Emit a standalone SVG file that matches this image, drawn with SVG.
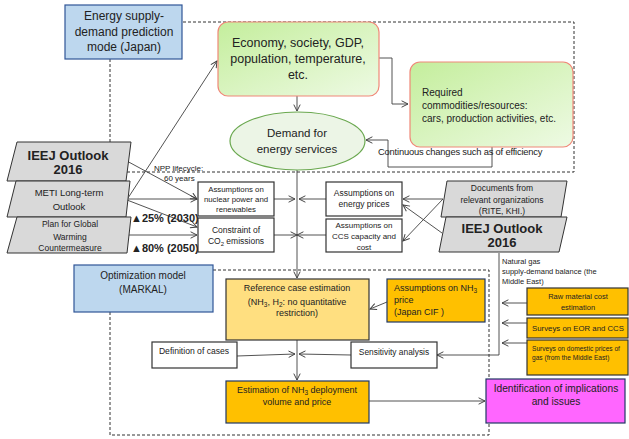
<svg xmlns="http://www.w3.org/2000/svg" width="629" height="439" viewBox="0 0 629 439">
<style>
text{font-family:"Liberation Sans",Arial,sans-serif;fill:#222}
.c{text-anchor:middle}
.b{font-weight:bold}
.dash{fill:none;stroke:#333;stroke-width:1;stroke-dasharray:3,2}
.ln{fill:none;stroke:#404040;stroke-width:0.9;marker-end:url(#ah)}
.blue{fill:#bdd7ee;stroke:#2f5597;stroke-width:1.2}
.grn{fill:url(#gg);stroke:#f08878;stroke-width:1.2}
.par{fill:#d9d9d9;stroke:#333;stroke-width:1}
.wht{fill:#fff;stroke:#333;stroke-width:1.2}
.org{fill:#ffc000;stroke:#203864;stroke-width:1.2}
.org2{fill:#ffc000;stroke:#333;stroke-width:1.2}
</style>
<defs>
<linearGradient id="gg" x1="0" y1="0" x2="1" y2="1">
<stop offset="0" stop-color="#c4ee9c"/>
<stop offset="1" stop-color="#eefae4"/>
</linearGradient>
<marker id="ah" viewBox="0 0 10 10" refX="9" refY="5" markerWidth="8" markerHeight="8" markerUnits="userSpaceOnUse" orient="auto">
<path d="M1,1 L9,5 L1,9" fill="none" stroke="#404040" stroke-width="1.2"/>
</marker>
</defs>
<rect width="629" height="439" fill="#fff"/>
<g id="frames">
<path class="dash" d="M183,22 H574 V172 H126"/>
<path class="dash" d="M110,59 V143"/>
<path class="dash" d="M213,270 H489 V435 H110 V312"/>
</g>
<g id="connectors">
<path class="ln" d="M128,198 L217,61"/>
<path class="ln" d="M379,58 H392 V104 H408"/>
<path class="ln" d="M297,96 V111"/>
<path class="ln" d="M492,147 V167 H388 V140 H366"/>
<path class="ln" d="M125,160 L197,199"/>
<path class="ln" d="M127,199 H197"/>
<path class="ln" d="M127,200 L197,227"/>
<path class="ln" d="M128,235 H197"/>
<path class="ln" d="M297,170 V278"/>
<path class="ln" d="M274,199 H295"/>
<path class="ln" d="M326,199 H299"/>
<path class="ln" d="M274,235 H297"/>
<path class="ln" d="M326,235 H297"/>
<path class="ln" d="M443,199 H403"/>
<path class="ln" d="M443,199 L403,241"/>
<path class="ln" d="M442,233 L403,205"/>
<path class="ln" d="M499,253 V355 H437"/>
<path class="ln" d="M527,303 H502"/>
<path class="ln" d="M527,323 H502"/>
<path class="ln" d="M527,343 H502"/>
<path class="ln" d="M387,302 L370,309"/>
<path class="ln" d="M237,356 L295,354"/>
<path class="ln" d="M351,355 L299,354"/>
<path class="ln" d="M297,340 V380"/>
<path class="ln" d="M369,401 H485"/>
</g>
<g id="n-energy-model">
<rect class="blue" x="65" y="5" width="117" height="54"/>
<text class="c" x="124" y="20" font-size="12">Energy supply-</text>
<text class="c" x="124" y="36" font-size="12">demand prediction</text>
<text class="c" x="124" y="51" font-size="12">mode (Japan)</text>
</g>
<g id="n-economy">
<rect class="grn" x="218" y="22" width="161" height="74" rx="10"/>
<text class="c" x="298" y="47" font-size="12.5">Economy, society, GDP,</text>
<text class="c" x="298" y="63" font-size="12.5">population, temperature,</text>
<text class="c" x="298" y="79" font-size="12.5">etc.</text>
</g>
<g id="n-required">
<rect class="grn" x="410" y="62" width="163" height="85" rx="10"/>
<text x="422" y="95.5" font-size="10">Required</text>
<text x="422" y="108.5" font-size="10">commodities/resources:</text>
<text x="422" y="121.5" font-size="10">cars, production  activities, etc.</text>
</g>
<g id="n-demand">
<ellipse cx="297.5" cy="141" rx="67.5" ry="29" fill="#ecf5e6" stroke="#6aa84f" stroke-width="1.2"/>
<text class="c" x="297" y="137" font-size="11.5">Demand for</text>
<text class="c" x="297" y="153" font-size="11.5">energy services</text>
</g>
<g id="l-continuous">
<text x="378" y="155" font-size="9.4" letter-spacing="-0.2">Continuous changes such as of efficiency</text>
</g>
<g id="n-ieej-left">
<polygon class="par" points="17,142 131,142 126,181 7,181"/>
<text class="c b" x="68" y="160" font-size="13">IEEJ Outlook</text>
<text class="c b" x="68" y="174" font-size="13">2016</text>
</g>
<g id="n-meti">
<polygon class="par" points="16,181 130,181 126,217 7,217"/>
<text class="c" x="69" y="195.5" font-size="9.5">METI Long-term</text>
<text class="c" x="69" y="209.5" font-size="9.5">Outlook</text>
</g>
<g id="n-plan">
<polygon class="par" points="17,217 131,217 127,253 7,253"/>
<text class="c" x="70" y="227" font-size="8.5">Plan for Global</text>
<text class="c" x="70" y="240" font-size="8.5">Warming</text>
<text class="c" x="70" y="251" font-size="8.5">Countermeasure</text>
</g>
<g id="l-npp">
<text x="154" y="171" font-size="8">NPP lifecycle:</text>
<text x="164" y="181" font-size="8">60 years</text>
</g>
<g id="l-targets">
<text class="b" x="131" y="222" font-size="11">▲25% (2030)</text>
<text class="b" x="131" y="252" font-size="11">▲80% (2050)</text>
</g>
<g id="n-nuclear">
<rect class="wht" x="198" y="182" width="76" height="34"/>
<text class="c" x="236" y="192" font-size="7.8">Assumptions on</text>
<text class="c" x="236" y="202" font-size="7.8">nuclear power and</text>
<text class="c" x="236" y="212" font-size="7.8">renewables</text>
</g>
<g id="n-co2">
<rect class="wht" x="198" y="218" width="76" height="34"/>
<text class="c" x="236" y="233" font-size="8.5">Constraint of</text>
<text class="c" x="236" y="244" font-size="8.5">CO<tspan font-size="6" dy="2">2</tspan><tspan dy="-2"> emissions</tspan></text>
</g>
<g id="n-prices">
<rect class="wht" x="326" y="182" width="76" height="34"/>
<text class="c" x="364" y="196" font-size="8.5">Assumptions  on</text>
<text class="c" x="364" y="207" font-size="8.5">energy prices</text>
</g>
<g id="n-ccs">
<rect class="wht" x="326" y="219" width="76" height="33"/>
<text class="c" x="364" y="228" font-size="8">Assumptions on</text>
<text class="c" x="364" y="239" font-size="8">CCS capacity and</text>
<text class="c" x="364" y="250" font-size="8">cost</text>
</g>
<g id="n-documents">
<polygon class="par" points="447,181 567,181 561,217 441,217"/>
<text class="c" x="502" y="191" font-size="8.5">Documents  from</text>
<text class="c" x="502" y="203" font-size="8.5">relevant organizations</text>
<text class="c" x="502" y="214" font-size="8.5">(RITE, KHI.)</text>
</g>
<g id="n-ieej-right">
<polygon class="par" points="446,217 567,217 559,252 439,252"/>
<text class="c b" x="502" y="233" font-size="13">IEEJ Outlook</text>
<text class="c b" x="502" y="247" font-size="13">2016</text>
</g>
<g id="l-natgas">
<text x="502" y="263.5" font-size="7.5">Natural gas</text>
<text x="502" y="273.5" font-size="7.5">supply-demand balance (the</text>
<text x="502" y="283.5" font-size="7.5">Middle East)</text>
</g>
<g id="n-raw">
<rect class="org2" x="527" y="288" width="101" height="27"/>
<text class="c" x="578" y="299" font-size="7.5">Raw material cost</text>
<text class="c" x="578" y="310" font-size="7.5">estimation</text>
</g>
<g id="n-eor">
<rect class="org2" x="527" y="318" width="101" height="20"/>
<text class="c" x="578" y="330.5" font-size="7.8">Surveys  on EOR and CCS</text>
</g>
<g id="n-domestic">
<rect class="org2" x="527" y="340" width="101" height="35"/>
<text x="532" y="351" font-size="6.6">Surveys on domestic prices of</text>
<text x="532" y="359.5" font-size="6.6">gas (from the Middle East)</text>
</g>
<g id="n-optimization">
<rect class="blue" x="74" y="265" width="139" height="47"/>
<text class="c" x="143" y="278.5" font-size="10">Optimization model</text>
<text class="c" x="143" y="292.5" font-size="10">(MARKAL)</text>
</g>
<g id="n-reference">
<rect x="226" y="279" width="143" height="61" fill="#ffdf80" stroke="#333" stroke-width="1.2"/>
<text class="c" x="297" y="291" font-size="9">Reference case estimation</text>
<text class="c" x="297" y="305" font-size="9">(NH<tspan font-size="6.5" dy="2">3</tspan><tspan dy="-2">, H</tspan><tspan font-size="6.5" dy="2">2</tspan><tspan dy="-2">: no quantitative</tspan></text>
<text class="c" x="297" y="315.5" font-size="9">restriction)</text>
</g>
<g id="n-nh3price">
<rect class="org" x="387" y="279" width="98" height="43"/>
<text x="394" y="291" font-size="9">Assumptions  on NH<tspan font-size="6.5" dy="2">3</tspan></text>
<text x="394" y="303" font-size="9">price</text>
<text x="394" y="315" font-size="9">(Japan CIF )</text>
</g>
<g id="n-definition">
<rect class="wht" x="152" y="342" width="85" height="26"/>
<text class="c" x="194" y="354" font-size="8.6">Definition of cases</text>
</g>
<g id="n-sensitivity">
<rect class="wht" x="351" y="342" width="86" height="26"/>
<text class="c" x="394" y="355" font-size="8.4">Sensitivity analysis</text>
</g>
<g id="n-estimation">
<rect class="org" x="226" y="381" width="143" height="42"/>
<text class="c" x="297" y="393" font-size="9">Estimation of NH<tspan font-size="6.5" dy="2">3</tspan><tspan dy="-2"> deployment</tspan></text>
<text class="c" x="297" y="404.5" font-size="9">volume and price</text>
</g>
<g id="n-identification">
<rect x="486" y="379" width="139" height="44" fill="#ff66ff" stroke="#203864" stroke-width="1.2"/>
<text class="c" x="556" y="391.5" font-size="10.2">Identification of implications</text>
<text class="c" x="556" y="404.5" font-size="10.2">and issues</text>
</g>
</svg>
